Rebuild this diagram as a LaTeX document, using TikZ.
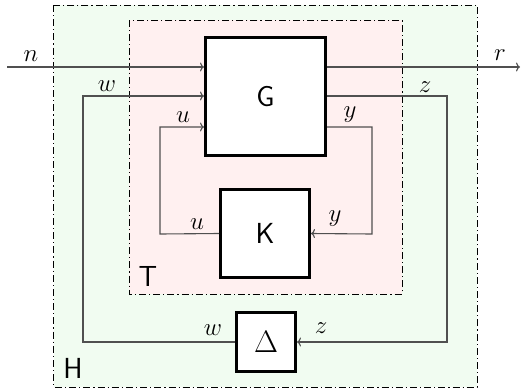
\RequirePackage{fix-cm}
\documentclass[tikz,border=0pt]{standalone}
\usetikzlibrary{arrows.meta}
\definecolor{hgreen}{HTML}{F1FCF1}
\definecolor{tpink}{HTML}{FFF0F0}
\definecolor{conncol}{HTML}{505050}
\begin{document}
\begin{tikzpicture}[x=1pt,y=-1pt,
  blk/.style={draw=black, line width=3pt, fill=white, inner sep=0pt,
    font=\sffamily\fontsize{29}{34}\selectfont},
  frame/.style={draw=black, line width=1pt, dash pattern=on 7pt off 3pt on 1.2pt off 3pt},
  conn/.style={draw=conncol, line width=1.1pt},
  arr/.style={conn, -{To[length=4pt,width=9pt]}},
  lbl/.style={inner sep=0pt, font=\fontsize{25}{30}\selectfont},
  tag/.style={inner sep=0pt, font=\sffamily\fontsize{29}{34}\selectfont}]
\useasboundingbox (0,0) rectangle (521,388);
% frames
\path[frame, fill=hgreen] (53.5,5) rectangle (477,387);
\path[frame, fill=tpink] (129,20) rectangle (402,294);
% blocks
\node[blk, minimum width=120, minimum height=118] (G) at (265.5,96.5) {G};
\node[blk, minimum width=89, minimum height=88] (K) at (265,233.5) {K};
\node[blk, minimum width=59, minimum height=59, font=\fontsize{31}{36}\selectfont] (D) at (266,342) {$\Delta$};
% coordinates
\coordinate (nin) at (7,67);
\coordinate (rout) at (520,67);
\coordinate (wl) at (83,342);
\coordinate (wt) at (83,96);
\coordinate (zr) at (447,96);
\coordinate (zb) at (447,342);
\coordinate (ul) at (160,234);
\coordinate (ut) at (160,127);
\coordinate (yr) at (372,127);
\coordinate (yb) at (372,234);
% connectors
\draw[arr] (nin) -- (G.west |- nin);
\draw[arr] (G.east |- rout) -- (rout);
\draw[arr] (D.west) -- (wl) -- (wt) -- (G.west |- wt);
\draw[arr] (G.east |- zr) -- (zr) -- (zb) -- (D.east);
\draw[arr] (K.west) -- (ul) -- (ut) -- (G.west |- ut);
\draw[arr] (G.east |- yr) -- (yr) -- (yb) -- (K.east);
% labels
\node[lbl] (ln) at (31,56) {$n$};
\node[lbl] (lr) at (500,55) {$r$};
\node[lbl] (lw1) at (107,86) {$w$};
\node[lbl] (lz1) at (425,87) {$z$};
\node[lbl] (lu1) at (183,117) {$u$};
\node[lbl] (ly1) at (350,115) {$y$};
\node[lbl] (lu2) at (197,224) {$u$};
\node[lbl] (ly2) at (335,219) {$y$};
\node[lbl] (lw2) at (213,330) {$w$};
\node[lbl] (lz2) at (321,328) {$z$};
\node[tag] (T) at (148,276) {T};
\node[tag] (H) at (73,368) {H};
\end{tikzpicture}
\end{document}
